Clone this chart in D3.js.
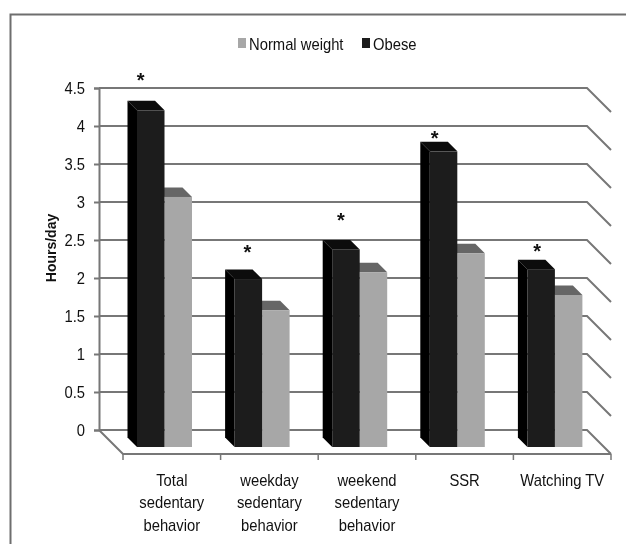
<!DOCTYPE html>
<html>
<head>
<meta charset="utf-8">
<script src="https://d3js.org/d3.v7.min.js"></script>
<style>
html, body { margin: 0; padding: 0; background: #fff; }
svg { display: block; filter: blur(0.45px); }
text { font-family: "Liberation Sans", Arial, sans-serif; fill: #111; }
</style>
</head>
<body>
<div id="chart"></div>
<script>
var categories = [["Total", "sedentary", "behavior"], ["weekday", "sedentary", "behavior"], ["weekend", "sedentary", "behavior"], ["SSR"], ["Watching TV"]];
var normalWeight = [3.29, 1.80, 2.30, 2.55, 2.00];
var obese = [4.43, 2.21, 2.60, 3.89, 2.34];
var starLevels = [4.7, 2.43, 2.85, 3.94, 2.45];
var yTicks = [0, 0.5, 1, 1.5, 2, 2.5, 3, 3.5, 4, 4.5];
var seriesNames = ["Normal weight", "Obese"];

var width = 626, height = 544;
var wall = {left: 99, right: 587, top: 88, bottom: 430};
var depth = 24;      // floor depth, same in x and y
var barFront = 17;   // how far the front of a bar sits off the back wall
var barDepth = 9.5;
var barInset = 14;   // first bar from the left of its band
var barWidth = 27.5;
var starDx = [-10, -1, -5, -9, -4]; // stars were placed by hand in the original
var squeeze = "scale(0.87,1)"; // the original's text is condensed

var gridColor = "#777";
var colors = {
  normal: {front: "#a7a7a7", top: "#666"},
  obese: {front: "#1c1c1c", top: "#0c0c0c", side: "#000"}
};

var svg = d3.select("#chart").append("svg")
  .attr("width", width)
  .attr("height", height);

svg.append("rect").attr("width", width).attr("height", height).attr("fill", "#fff");

// outer frame, only top and left show in the picture
svg.append("path")
  .attr("d", "M10.5," + height + "V14.5H" + width)
  .attr("fill", "none")
  .attr("stroke", "#6e6e6e")
  .attr("stroke-width", 2);

var y = d3.scaleLinear().domain([0, 4.5]).range([wall.bottom, wall.top]);
var x = d3.scaleBand()
  .domain(d3.range(categories.length))
  .range([wall.left + depth, wall.right + depth]);

// gridlines with the bend onto the side wall
svg.append("g").selectAll("path")
  .data(yTicks)
  .enter()
  .append("path")
  .attr("d", function(d) {
    return "M" + wall.left + "," + y(d) + "H" + wall.right + "l" + depth + "," + depth;
  })
  .attr("fill", "none")
  .attr("stroke", gridColor)
  .attr("stroke-width", 2);

// back wall left edge + labels
var yAxis = svg.append("g")
  .attr("transform", "translate(" + wall.left + ",0)")
  .call(d3.axisLeft(y).tickValues(yTicks).tickSize(5).tickPadding(11).tickFormat(function(d) { return d; }));
yAxis.selectAll("line").attr("stroke", gridColor).attr("stroke-width", 2);
yAxis.select(".domain").attr("stroke", gridColor).attr("stroke-width", 2);
yAxis.selectAll("text")
  .attr("transform", squeeze)
  .attr("fill", "#111")
  .style("font-size", "17px")
  .style("font-family", "Liberation Sans");

// floor
var floorY = wall.bottom + depth;
svg.append("path")
  .attr("d", "M" + wall.left + "," + wall.bottom + "l" + depth + "," + depth + "H" + (wall.right + depth))
  .attr("fill", "none")
  .attr("stroke", gridColor)
  .attr("stroke-width", 2);

// floor ticks sit between the categories
svg.append("g").selectAll("line")
  .data(d3.range(categories.length + 1))
  .enter()
  .append("line")
  .attr("x1", function(d) { return x.range()[0] + d * x.step(); })
  .attr("x2", function(d) { return x.range()[0] + d * x.step(); })
  .attr("y1", floorY)
  .attr("y2", floorY + 6)
  .attr("stroke", gridColor)
  .attr("stroke-width", 1.5);

function poly(pts) {
  return pts.map(function(p) { return p.join(","); }).join(" ");
}

function drawBars(values, col, slot) {
  var g = svg.append("g").selectAll("g")
    .data(values)
    .enter()
    .append("g");

  function left(i) { return x(i) + barInset + slot * barWidth; }
  function topY(d) { return y(d) + barFront; }

  // top face
  g.append("polygon")
    .attr("points", function(d, i) {
      var l = left(i), t = topY(d);
      return poly([[l, t], [l + barWidth, t], [l + barWidth - barDepth, t - barDepth], [l - barDepth, t - barDepth]]);
    })
    .attr("fill", col.top);

  // side face
  if (col.side) {
    g.append("polygon")
      .attr("points", function(d, i) {
        var l = left(i), t = topY(d), b = y(0) + barFront;
        return poly([[l, t], [l, b], [l - barDepth, b - barDepth], [l - barDepth, t - barDepth]]);
      })
      .attr("fill", col.side);
  }

  // front face
  g.append("rect")
    .attr("x", function(d, i) { return left(i); })
    .attr("y", function(d) { return topY(d); })
    .attr("width", barWidth)
    .attr("height", function(d) { return y(0) - y(d); })
    .attr("fill", col.front);
}

drawBars(normalWeight, colors.normal, 1);
drawBars(obese, colors.obese, 0);

// significance stars
svg.append("g").selectAll("text")
  .data(starLevels)
  .enter()
  .append("text")
  .attr("x", function(d, i) { return x(i) + barInset + barWidth / 2 + starDx[i]; })
  .attr("y", function(d) { return y(d) + 14; })
  .attr("text-anchor", "middle")
  .style("font-size", "20px")
  .style("font-weight", "bold")
  .text("*");

// category labels
var cat = svg.append("g").selectAll("text")
  .data(categories)
  .enter()
  .append("text")
  .attr("text-anchor", "middle")
  .attr("transform", function(d, i) { return "translate(" + (x(i) + x.bandwidth() / 2) + ",486) " + squeeze; })
  .style("font-size", "17px");
cat.selectAll("tspan")
  .data(function(d) { return d; })
  .enter()
  .append("tspan")
  .attr("x", 0)
  .attr("dy", function(d, j) { return j ? 22.5 : 0; })
  .text(function(d) { return d; });

// axis title
svg.append("text")
  .attr("transform", "translate(56,248) rotate(-90)")
  .attr("text-anchor", "middle")
  .style("font-size", "14px")
  .style("font-weight", "bold")
  .text("Hours/day");

// legend
var legendX = [238, 362];
var legendColors = [colors.normal.front, colors.obese.front];
var legend = svg.append("g").selectAll("g")
  .data(seriesNames)
  .enter()
  .append("g")
  .attr("transform", function(d, i) { return "translate(" + legendX[i] + ",38)"; });
legend.append("rect")
  .attr("width", 8)
  .attr("height", 10)
  .attr("fill", function(d, i) { return legendColors[i]; });
legend.append("text")
  .attr("transform", "translate(11,12) " + squeeze)
  .style("font-size", "17px")
  .text(function(d) { return d; });
</script>
</body>
</html>
